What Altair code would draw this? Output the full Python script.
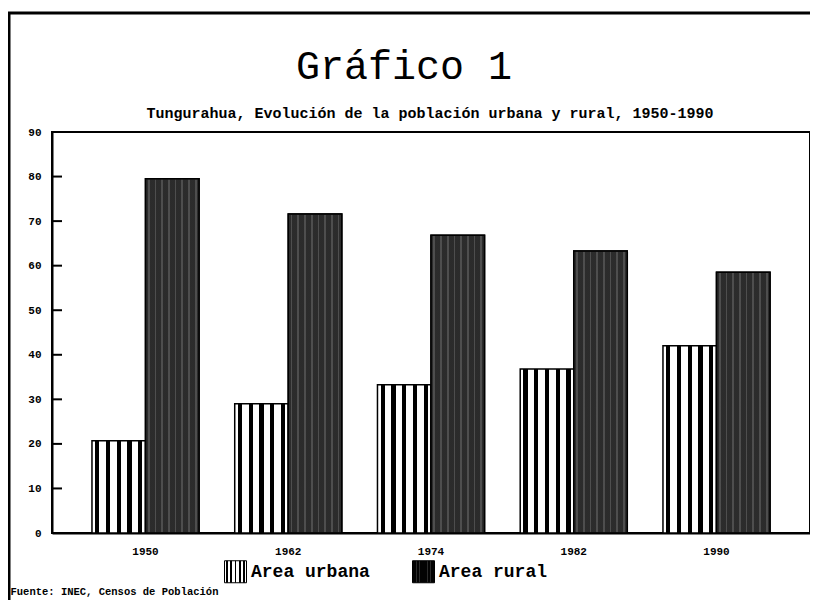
import altair as alt
import pandas as pd

# ---- data ----
years = ["1950", "1962", "1974", "1982", "1990"]
urbana = [20.7, 29.0, 33.3, 36.8, 42.0]
rural = [79.5, 71.6, 66.8, 63.3, 58.5]
series = ["Area urbana", "Area rural"]
y_ticks = [0, 10, 20, 30, 40, 50, 60, 70, 80, 90]
inner_ticks = [10, 20, 30, 40, 50, 60, 70, 80]

title_text = "Gráfico 1"
subtitle_text = "Tungurahua, Evolución de la población urbana y rural, 1950-1990"
source_text = "Fuente: INEC, Censos de Población"

rows = []
for i, yr in enumerate(years):
    rows.append({"year": yr, "serie": series[0], "pct": urbana[i]})
    rows.append({"year": yr, "serie": series[1], "pct": rural[i]})
df = pd.DataFrame(rows)
df_rural = df[df["serie"] == series[1]]
ticks_df = pd.DataFrame({"v": inner_ticks})

MONO = "Liberation Mono"


def stripe_stops(base, ink, n, hw):
    stops = [(0.0, base)]
    for k in range(n):
        c = (k + 0.5) / n
        stops += [(c - hw, base), (c - hw, ink), (c + hw, ink), (c + hw, base)]
    stops.append((1.0, base))
    return stops


def grad_expr(stops, horizontal=True):
    x2, y2 = (1, 0) if horizontal else (0, 1)
    s = ",".join("{offset:%.4f,color:'%s'}" % (o, c) for o, c in stops)
    return "{gradient:'linear',x1:0,y1:0,x2:%d,y2:%d,stops:[%s]}" % (x2, y2, s)


urb_fill = grad_expr(stripe_stops("#ffffff", "#000000", 5, 0.04))
rur_fill = grad_expr(stripe_stops("#030303", "#2c2c2c", 8, 0.016))

overlay_stops = stripe_stops("rgba(0,0,0,0)", "rgba(255,255,255,0.16)", 48, 0.06)
overlay = alt.LinearGradient(
    gradient="linear", x1=0, y1=0, x2=0, y2=1,
    stops=[alt.GradientStop(offset=o, color=c) for o, c in overlay_stops],
)

x_enc = alt.X(
    "year:N", sort=years,
    scale=alt.Scale(paddingInner=0.25, paddingOuter=0.28),
    axis=alt.Axis(
        labelAngle=0, ticks=False, labelPadding=12,
        labelFont=MONO, labelFontSize=11, labelFontWeight="bold", labelColor="black",
        domainColor="black", domainWidth=2,
        title=source_text, titleX=-42, titleY=58, titleAlign="left",
        titleBaseline="middle", titleAnchor="start",
        titleFont=MONO, titleFontSize=10.5, titleFontWeight="bold", titleColor="black",
    ),
)
xoff = alt.XOffset("serie:N", sort=series,
                   scale=alt.Scale(domain=series, paddingInner=0, paddingOuter=0))
y_enc = alt.Y(
    "pct:Q",
    scale=alt.Scale(domain=[0, 90], nice=False),
    axis=alt.Axis(
        values=y_ticks, format="d", tickSize=0, labelPadding=11, grid=False,
        labelFont=MONO, labelFontSize=11, labelFontWeight="bold", labelColor="black",
        domainColor="black", domainWidth=2, title=None,
    ),
)

bars = alt.Chart(df).mark_bar(stroke="black", strokeWidth=1.5).encode(
    x=x_enc, xOffset=xoff, y=y_enc,
    color=alt.Color(
        "serie:N", sort=series,
        scale=alt.Scale(domain=series, range=[{"expr": urb_fill}, {"expr": rur_fill}]),
        legend=alt.Legend(
            title=None, orient="none", legendX=172, legendY=428, direction="horizontal",
            symbolType="square", symbolSize=484, symbolStrokeColor="black",
            symbolStrokeWidth=1, labelFont=MONO, labelFontSize=18, labelFontWeight="bold",
            labelColor="black", labelOffset=4, columnPadding=40, padding=0,
        ),
    ),
)

texture = alt.Chart(df_rural).mark_bar(fill=overlay, stroke="black", strokeWidth=1.5).encode(
    x=alt.X("year:N", sort=years), xOffset=alt.XOffset("serie:N", sort=series), y="pct:Q",
)

ticks = alt.Chart(ticks_df).mark_rule(color="black", strokeWidth=2).encode(
    y=alt.Y("v:Q"), x=alt.value(0), x2=alt.value(10),
)

frame_df = pd.DataFrame({"f": [0]})
frame_left = alt.Chart(frame_df).mark_rule(color="black", strokeWidth=3).encode(
    x=alt.value(-43), y=alt.value(-119), y2=alt.value(470),
)
frame_top = alt.Chart(frame_df).mark_rule(color="black", strokeWidth=3).encode(
    x=alt.value(-44), x2=alt.value(770), y=alt.value(-119),
)

title_mark = alt.Chart(pd.DataFrame({"t": [title_text]})).mark_text(
    font=MONO, fontSize=40, fontWeight="normal", color="black",
    align="center", baseline="alphabetic",
).encode(text="t:N", x=alt.value(352), y=alt.value(-53))

subtitle_mark = alt.Chart(pd.DataFrame({"t": [subtitle_text]})).mark_text(
    font=MONO, fontSize=15, fontWeight="bold", color="black",
    align="center", baseline="middle",
).encode(text="t:N", x=alt.value(378), y=alt.value(-19))

chart = alt.layer(
    bars, texture, ticks, frame_left, frame_top, title_mark, subtitle_mark
).properties(
    width=758, height=401,
    autosize=alt.AutoSizeParams(type="none"),
    padding={"left": 44, "top": 124, "right": 0, "bottom": 67},
    background="white",
).configure_view(stroke="black", strokeWidth=2)

chart.save("out.html", embed_options={"renderer": "svg", "actions": False})
